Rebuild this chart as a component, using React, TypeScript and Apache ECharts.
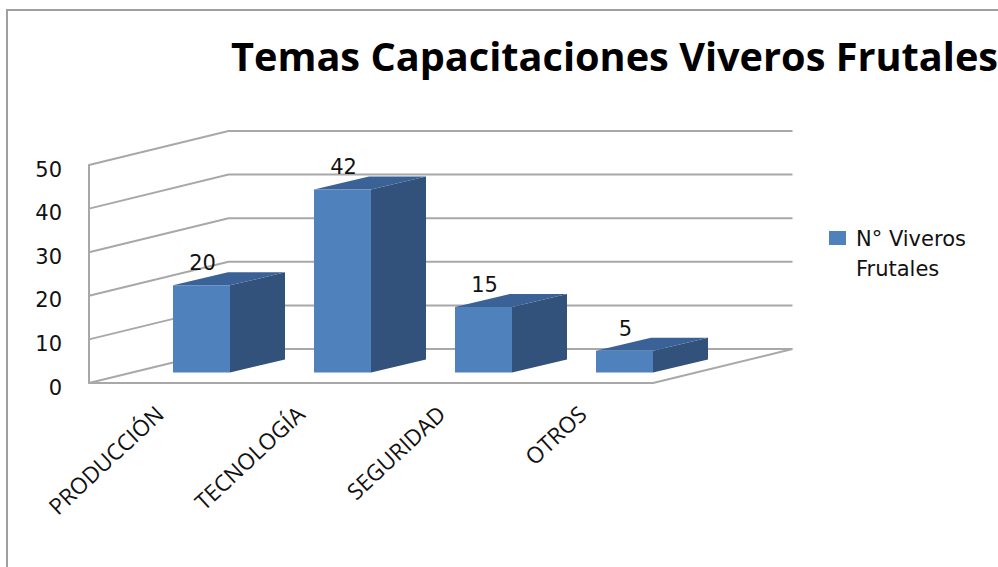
import React, { useEffect, useRef } from "react";
import * as echarts from "echarts";

const categories = ["PRODUCCIÓN", "TECNOLOGÍA", "SEGURIDAD", "OTROS"];
const seriesName = "N° Viveros Frutales";
const values = [20, 42, 15, 5];
const wallTicks = [0, 10, 20, 30, 40, 50];
const titleText = "Temas Capacitaciones Viveros Frutales";

const DEPTH_X = 139.5;
const DEPTH_Y = -34;
const BAR_W = 57;
const BAR_DX = 55;
const BAR_DY = -13;
const BAR_SHIFT_X = 42;
const BAR_SHIFT_Y = -10.5;
const LINE = "#a8a8a8";
const TEXT = "#111111";

export default function App() {
  const ref = useRef<HTMLDivElement>(null);
  useEffect(() => {
    const chart = echarts.init(ref.current!, null, { renderer: "svg" });
    chart.setOption({
      animation: false,
      backgroundColor: "#ffffff",
      color: ["#4f81bd"],
      title: {
        text: titleText,
        left: 231,
        top: 36,
        padding: 0,
        textStyle: { fontFamily: "Open Sans", fontWeight: "bold", fontSize: 39.7, color: "#000000" },
      },
      legend: {
        left: 829,
        top: 224,
        padding: 0,
        itemWidth: 22,
        itemHeight: 60,
        itemGap: 0,
        icon: "path://M0 7H17V21H0ZM0 0L0 0ZM22 60L22 60Z",
        data: [seriesName],
        formatter: () => "N° Viveros\nFrutales",
        textStyle: { fontFamily: "DejaVu Sans", fontSize: 21, lineHeight: 30, color: TEXT },
      },
      grid: { left: 89, right: 345, top: 165, bottom: 184, containLabel: false },
      xAxis: {
        type: "category",
        data: categories,
        axisTick: { show: false },
        axisLine: { show: true, lineStyle: { color: LINE, width: 2 } },
        axisLabel: {
          rotate: 43,
          margin: 27,
          interval: 0,
          fontFamily: "Open Sans",
          fontSize: 22.5,
          color: TEXT,
        },
      },
      yAxis: {
        type: "value",
        min: 0,
        max: 50,
        interval: 10,
        splitLine: { show: false },
        axisTick: { show: false },
        axisLine: { show: true, lineStyle: { color: LINE, width: 2 } },
        axisLabel: {
          margin: 27,
          formatter: "{a|{value}}",
          rich: {
            a: {
              fontFamily: "DejaVu Sans",
              fontSize: 21,
              color: TEXT,
              padding: [9, 0, 0, 0],
            },
          },
        },
      },
      series: [
        {
          type: "custom",
          name: "walls",
          silent: true,
          z: 1,
          encode: { x: 0, y: 1 },
          data: wallTicks.map((t) => [0, t]),
          renderItem: (params: any, api: any) => {
            const cs = params.coordSys;
            const y = api.coord([0, api.value(1)])[1];
            const left = cs.x;
            const right = cs.x + cs.width;
            const pts = [
              [left, y],
              [left + DEPTH_X, y + DEPTH_Y],
              [right + DEPTH_X, y + DEPTH_Y],
            ];
            if (api.value(1) === 0) pts.push([right, y]);
            return {
              type: "polyline",
              shape: { points: pts },
              style: { stroke: LINE, lineWidth: 2, fill: "none" },
            };
          },
        },
        {
          type: "custom",
          name: seriesName,
          z: 2,
          itemStyle: { color: "#4f81bd" },
          encode: { x: 0, y: 1 },
          data: values.map((v, i) => [i, v]),
          renderItem: (_params: any, api: any) => {
            const i = api.value(0);
            const v = api.value(1);
            const top = api.coord([i, v]);
            const base = api.coord([i, 0]);
            const cx = top[0] + BAR_SHIFT_X;
            const x0 = cx - BAR_W / 2;
            const x1 = cx + BAR_W / 2;
            const yt = top[1] + BAR_SHIFT_Y;
            const yb = base[1] + BAR_SHIFT_Y;
            return {
              type: "group",
              children: [
                {
                  type: "polygon",
                  shape: { points: [[x1, yt], [x1 + BAR_DX, yt + BAR_DY], [x1 + BAR_DX, yb + BAR_DY], [x1, yb]] },
                  style: { fill: "#32527c" },
                },
                {
                  type: "polygon",
                  shape: { points: [[x0, yt], [x0 + BAR_DX, yt + BAR_DY], [x1 + BAR_DX, yt + BAR_DY], [x1, yt]] },
                  style: { fill: "#3a6296" },
                },
                {
                  type: "rect",
                  shape: { x: x0, y: yt, width: BAR_W, height: yb - yt },
                  style: { fill: "#4f81bd" },
                },
                {
                  type: "text",
                  x: cx + 1,
                  y: yt - 22,
                  style: {
                    text: String(v),
                    fill: TEXT,
                    fontFamily: "DejaVu Sans",
                    fontSize: 21,
                    align: "center",
                    verticalAlign: "middle",
                  },
                },
              ],
            };
          },
        },
      ],
      graphic: [
        {
          type: "rect",
          silent: true,
          z: -1,
          shape: { x: 7, y: 10, width: 1100, height: 700 },
          style: { fill: "none", stroke: "#a0a0a0", lineWidth: 2 },
        },
      ],
    });
    return () => chart.dispose();
  }, []);
  return <div ref={ref} style={{ position: "fixed", left: 0, top: 0, width: 998, height: 567 }} />;
}
